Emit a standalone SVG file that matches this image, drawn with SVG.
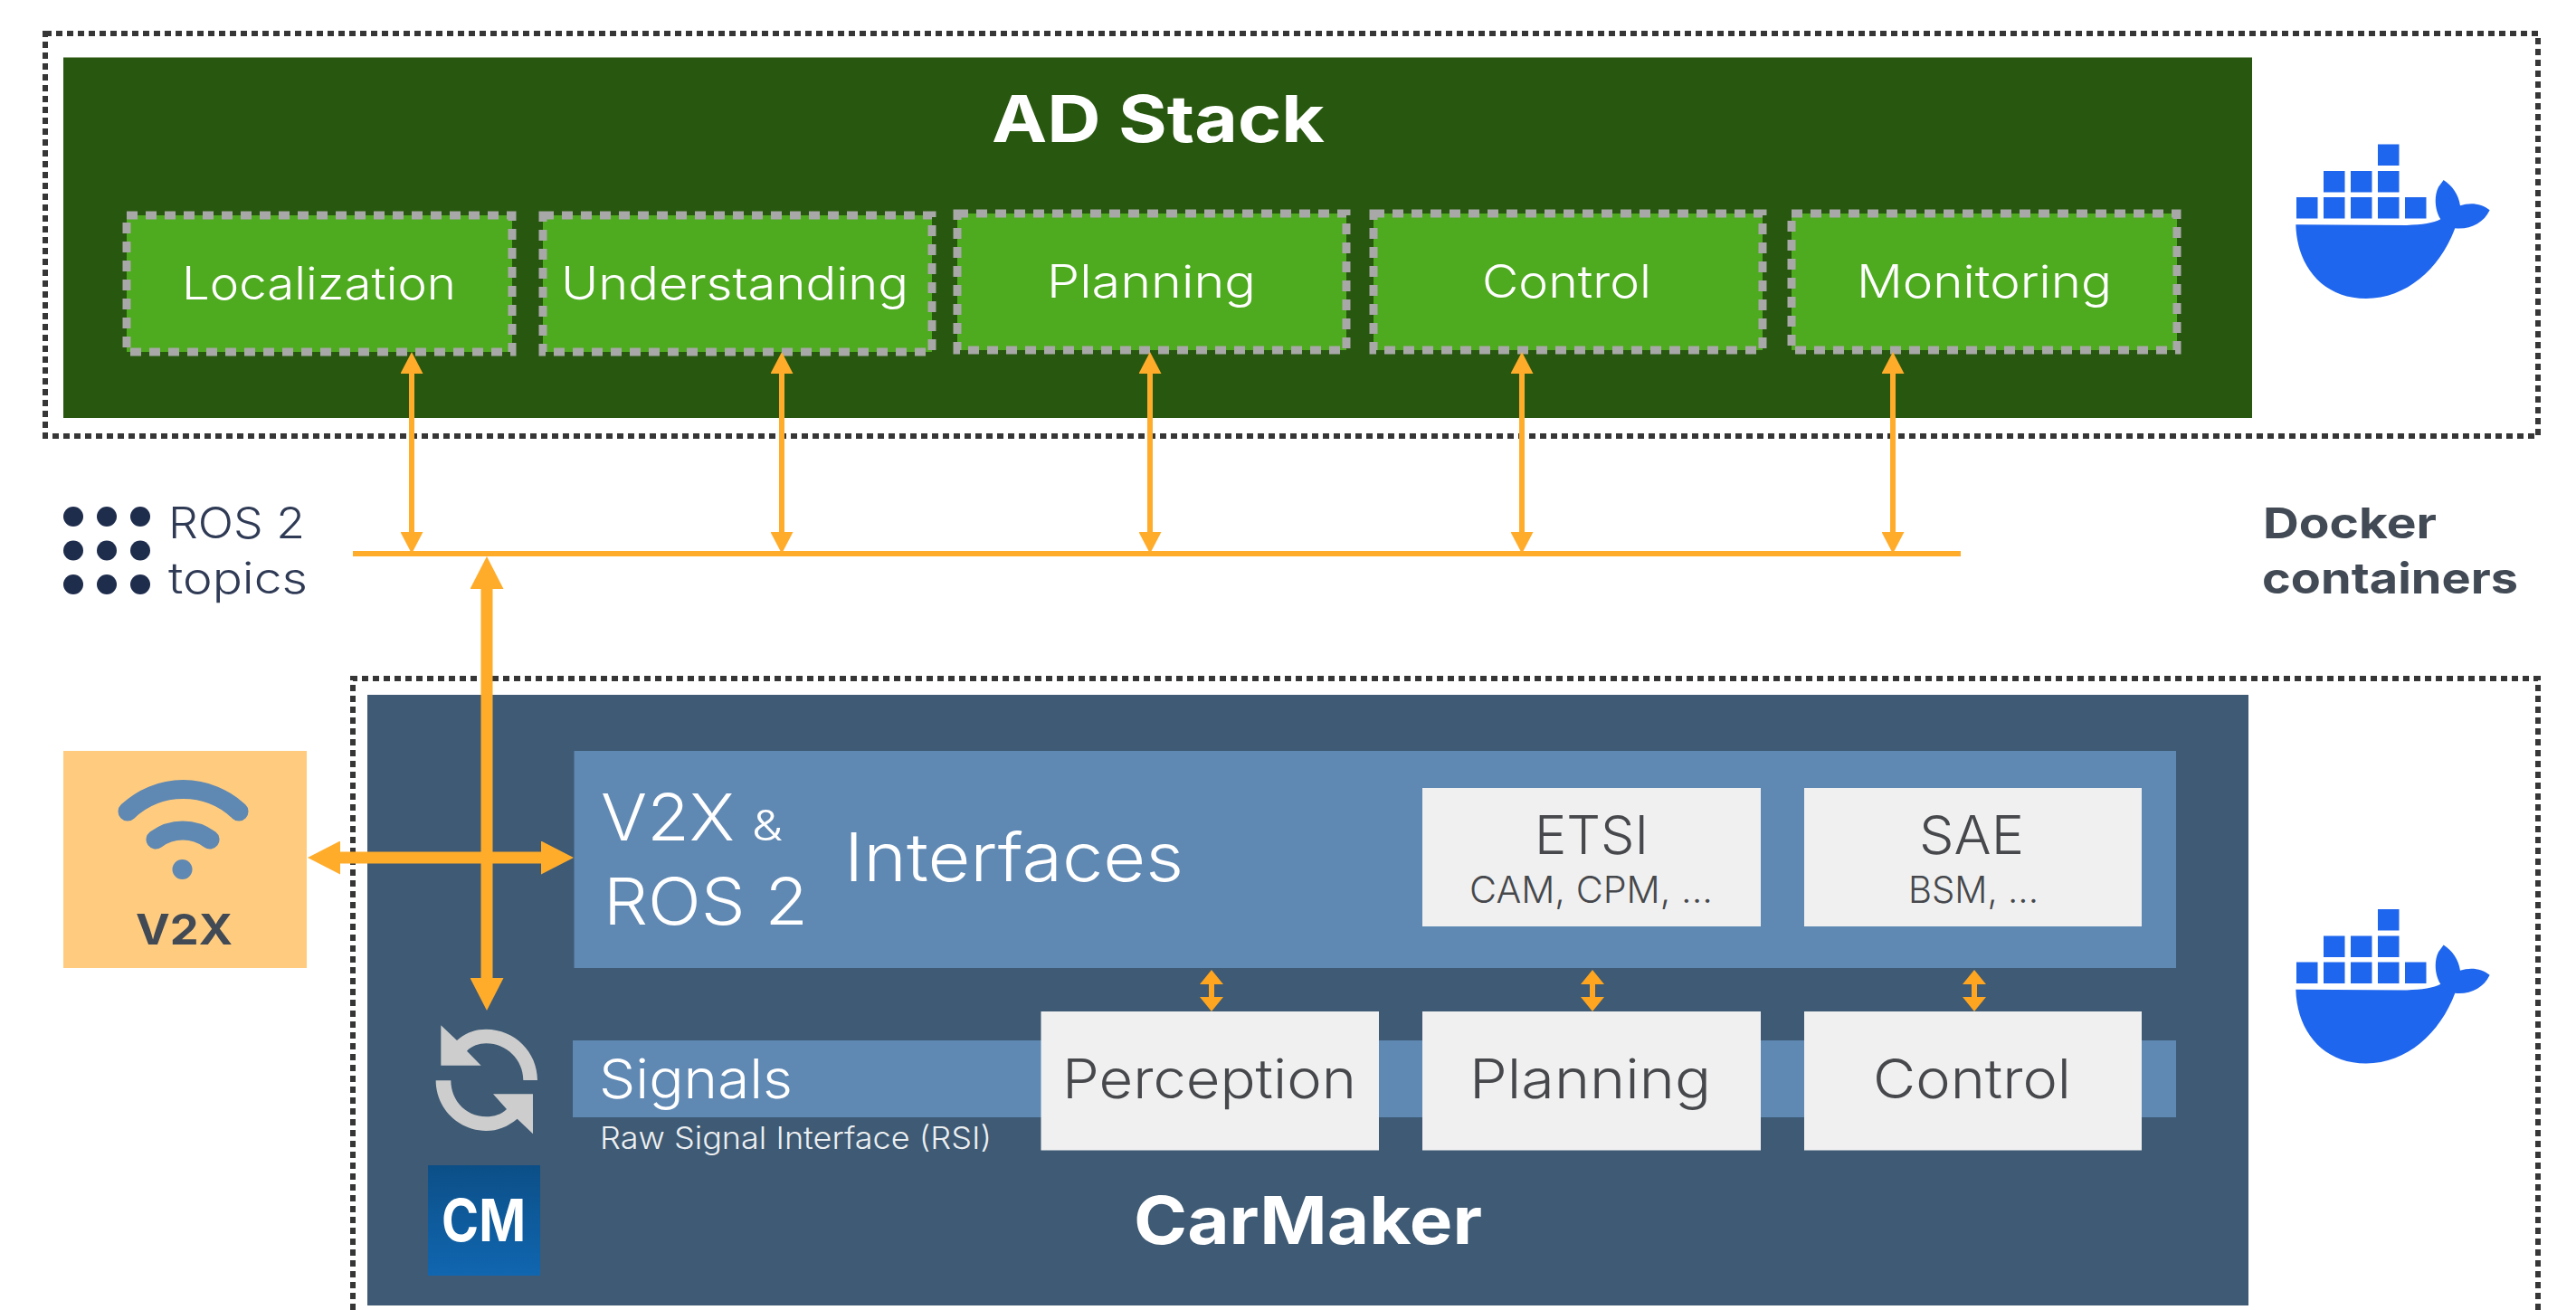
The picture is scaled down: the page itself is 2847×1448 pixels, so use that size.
<svg xmlns="http://www.w3.org/2000/svg" width="2847" height="1448" viewBox="0 0 2847 1448">
<style>
text{font-family:"Inter","Noto Sans","Liberation Sans",sans-serif;font-weight:300}
.w{fill:#fff}.b{font-weight:700}.d{fill:#46484c}.g{fill:#414a55;font-weight:700}
.outer{fill:none;stroke:#363636;stroke-width:6;stroke-dasharray:7 5}
.mod{fill:#4eaa1e;stroke:#a8a8a8;stroke-width:9;stroke-dasharray:12 9}
.lite{fill:#5f88b3}.card{fill:#f0f0f0}
.thin{stroke:#ffac2b;stroke-width:6;fill:none;marker-start:url(#h);marker-end:url(#h)}
.tiny{stroke:#ffa51f;stroke-width:6;fill:none;marker-start:url(#s);marker-end:url(#s)}
.thick{stroke:#ffac2b;stroke-width:13;fill:none;marker-start:url(#t);marker-end:url(#t)}
</style>
<defs>
<marker id="h" markerUnits="userSpaceOnUse" markerWidth="24" markerHeight="25" viewBox="0 -12.500 24 25" refX="0" refY="0" orient="auto-start-reverse"><path d="M0,-12.500L24,0L0,12.500Z" fill="#ffac2b"/></marker>
<marker id="s" markerUnits="userSpaceOnUse" markerWidth="16" markerHeight="26" viewBox="0 -13 16 26" refX="0" refY="0" orient="auto-start-reverse"><path d="M0,-13L16,0L0,13Z" fill="#ffa51f"/></marker>
<marker id="t" markerUnits="userSpaceOnUse" markerWidth="36" markerHeight="37" viewBox="0 -18.500 36 37" refX="0" refY="0" orient="auto-start-reverse"><path d="M0,-18.500L36,0L0,18.500Z" fill="#ffac2b"/></marker>
<linearGradient id="cm" x1="0" y1="0" x2="0" y2="1"><stop offset="0" stop-color="#0c4f87"/><stop offset="1" stop-color="#1066b0"/></linearGradient>
<g id="whale" fill="#1f66ee">
<rect x="2538" y="218" width="23.5" height="23.5"/><rect x="2568" y="218" width="23.5" height="23.5"/><rect x="2598" y="218" width="23.5" height="23.5"/><rect x="2628" y="218" width="23.5" height="23.5"/><rect x="2658" y="218" width="23.5" height="23.5"/>
<rect x="2568" y="189" width="23.5" height="23.5"/><rect x="2598" y="189" width="23.5" height="23.5"/><rect x="2628" y="189" width="23.5" height="23.5"/><rect x="2628" y="159.500" width="23.5" height="23.5"/>
<path transform="translate(2500,130) scale(.3333)" d="M112,355L480,357C530,355 570,350 592,337C575,310 568,265 585,230L602,207C630,225 652,255 657,292C690,280 730,285 755,307C735,350 690,372 640,367C590,500 480,600 345,600C200,600 115,490 112,355Z"/>
</g>
</defs>
<rect width="2847" height="1448" fill="#fff"/>
<g id="docker-top"><rect class="outer" x="50" y="37" width="2755" height="445"/><use href="#whale"/></g>
<g id="ad-stack"><rect x="70" y="63.500" width="2419" height="398.500" fill="#28570f"/>
<text class="w b" x="1096" y="157" font-size="72" textLength="368" lengthAdjust="spacingAndGlyphs">AD Stack</text></g>
<g id="localization"><rect class="mod" x="140" y="238" width="426" height="151"/><text class="w" x="201" y="331" font-size="50" textLength="303" lengthAdjust="spacingAndGlyphs">Localization</text></g>
<g id="understanding"><rect class="mod" x="600" y="238" width="430" height="151"/><text class="w" x="620" y="331" font-size="50" textLength="384" lengthAdjust="spacingAndGlyphs">Understanding</text></g>
<g id="planning-ad"><rect class="mod" x="1058" y="236" width="430" height="151"/><text class="w" x="1157" y="329" font-size="50" textLength="231" lengthAdjust="spacingAndGlyphs">Planning</text></g>
<g id="control-ad"><rect class="mod" x="1518" y="236" width="430" height="151"/><text class="w" x="1638" y="329" font-size="50" textLength="187" lengthAdjust="spacingAndGlyphs">Control</text></g>
<g id="monitoring"><rect class="mod" x="1980" y="236" width="426" height="151"/><text class="w" x="2052" y="329" font-size="50" textLength="282" lengthAdjust="spacingAndGlyphs">Monitoring</text></g>
<g id="ros-topics" fill="#1f2d4d"><circle cx="81" cy="571" r="11"/><circle cx="118" cy="571" r="11"/><circle cx="155" cy="571" r="11"/><circle cx="81" cy="608.500" r="11"/><circle cx="118" cy="608.500" r="11"/><circle cx="155" cy="608.500" r="11"/><circle cx="81" cy="646" r="11"/><circle cx="118" cy="646" r="11"/><circle cx="155" cy="646" r="11"/>
<text x="186" y="595" font-size="48" fill="#2f3a55" textLength="151" lengthAdjust="spacingAndGlyphs">ROS 2</text><text x="186" y="656" font-size="48" fill="#2f3a55" textLength="154" lengthAdjust="spacingAndGlyphs">topics</text></g>
<g id="docker-label"><text class="g" x="2501" y="595" font-size="47" textLength="192" lengthAdjust="spacingAndGlyphs">Docker</text><text class="g" x="2500" y="656" font-size="47" textLength="283" lengthAdjust="spacingAndGlyphs">containers</text></g>
<g id="docker-bottom"><path class="outer" d="M390,1448V750H2805V1448"/><use href="#whale" y="845.500"/></g>
<g id="carmaker"><rect x="406" y="768" width="2079" height="675" fill="#3e5a74"/>
<text class="w b" x="1253" y="1375" font-size="73" textLength="385" lengthAdjust="spacingAndGlyphs">CarMaker</text></g>
<g id="interfaces"><rect class="lite" x="634.500" y="830" width="1770.500" height="240"/>
<text class="w" x="664" y="929" font-size="72" textLength="148" lengthAdjust="spacingAndGlyphs">V2X</text><text class="w" x="831" y="929" font-size="47" textLength="34" lengthAdjust="spacingAndGlyphs">&amp;</text><text class="w" x="667" y="1022" font-size="72" textLength="226" lengthAdjust="spacingAndGlyphs">ROS 2</text><text class="w" x="933" y="974" font-size="74" textLength="375" lengthAdjust="spacingAndGlyphs">Interfaces</text></g>
<g id="etsi"><rect class="card" x="1572" y="871" width="374" height="153"/><text class="d" x="1696" y="944" font-size="59" textLength="126" lengthAdjust="spacingAndGlyphs">ETSI</text><text class="d" x="1624" y="998" font-size="41" textLength="269" lengthAdjust="spacingAndGlyphs">CAM, CPM, ...</text></g>
<g id="sae"><rect class="card" x="1994" y="871" width="373" height="153"/><text class="d" x="2121" y="944" font-size="59" textLength="116" lengthAdjust="spacingAndGlyphs">SAE</text><text class="d" x="2109" y="998" font-size="41" textLength="144" lengthAdjust="spacingAndGlyphs">BSM, ...</text></g>
<g id="signals"><rect class="lite" x="633" y="1150" width="1772" height="85"/><text class="w" x="662" y="1214" font-size="60" textLength="214" lengthAdjust="spacingAndGlyphs">Signals</text><text class="w" x="663" y="1270" font-size="34" fill-opacity=".92" textLength="433" lengthAdjust="spacingAndGlyphs">Raw Signal Interface (RSI)</text></g>
<g id="perception"><rect class="card" x="1150.500" y="1118" width="373.500" height="153.500"/><text class="d" x="1174" y="1214" font-size="60" textLength="325" lengthAdjust="spacingAndGlyphs">Perception</text></g>
<g id="planning-cm"><rect class="card" x="1572" y="1118" width="374" height="153.500"/><text class="d" x="1624" y="1214" font-size="60" textLength="267" lengthAdjust="spacingAndGlyphs">Planning</text></g>
<g id="control-cm"><rect class="card" x="1994" y="1118" width="373" height="153.500"/><text class="d" x="2070" y="1214" font-size="60" textLength="219" lengthAdjust="spacingAndGlyphs">Control</text></g>
<g id="v2x"><rect x="70" y="830" width="269" height="240" fill="#ffcc7f"/>
<path d="M141,897A89.500,89.500 0 0 1 264,897M172,928A50,50 0 0 1 232,928" fill="none" stroke="#5f88b3" stroke-width="21" stroke-linecap="round"/><circle cx="201.500" cy="961" r="11" fill="#5f88b3"/>
<text class="g" x="150" y="1044" font-size="47" textLength="107" lengthAdjust="spacingAndGlyphs">V2X</text></g>
<g id="refresh"><path transform="translate(440,1100) scale(.3333)" fill="#cdcdcd" d="M142,100V233H275L228,185C245,168 268,160 292,160C360,160 415,215 415,282H462C462,188 386,113 292,113C255,113 222,125 195,150ZM447,460V328H315L360,378C343,395 318,403 292,403C225,403 175,350 175,283H125C125,375 200,450 292,450C330,450 365,435 395,410Z"/></g>
<g id="cm-logo"><rect x="473" y="1288" width="124" height="122" fill="url(#cm)"/><text class="w b" x="488" y="1372" font-size="64" textLength="93" lengthAdjust="spacingAndGlyphs">CM</text></g>
<g id="connectors">
<path d="M390,612H2167" stroke="#ffac2b" stroke-width="6" fill="none"/>
<path class="thin" d="M455,413V588"/><path class="thin" d="M864,413V588"/><path class="thin" d="M1271,413V588"/><path class="thin" d="M1682,413V588"/><path class="thin" d="M2092,413V588"/>
<path class="thick" d="M538,651V1081"/><path class="thick" d="M376,948H598"/>
<path class="tiny" d="M1339,1088V1102"/><path class="tiny" d="M1760,1088V1102"/><path class="tiny" d="M2182,1088V1102"/>
</g>
</svg>
